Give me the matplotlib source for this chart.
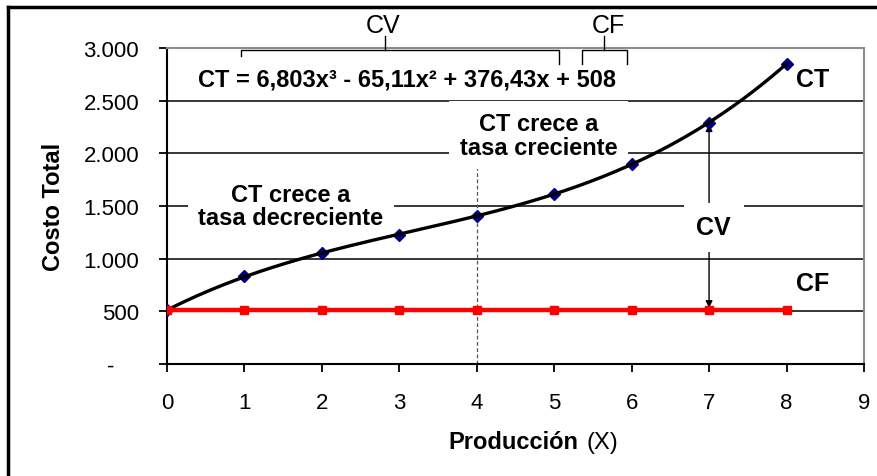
"""
Costo total = costo fijo + costo variable (función cúbica)
"""

import matplotlib
matplotlib.use("Agg")
import matplotlib.pyplot as plt
import numpy as np

plt.rcParams["font.family"] = ["Liberation Sans", "DejaVu Sans"]

# datos
produccion = [0, 1, 2, 3, 4, 5, 6, 7, 8]
costo_total = [508, 835, 1055, 1225, 1405, 1615, 1900, 2290, 2850]
costo_fijo = [508, 508, 508, 508, 508, 508, 508, 508, 508]
y_ticks = [0, 500, 1000, 1500, 2000, 2500, 3000]
y_labels = ["-    ", "500", "1.000", "1.500", "2.000", "2.500", "3.000"]
x_ticks = list(range(10))
ecuacion = "CT = 6,803x³ - 65,11x² + 376,43x + 508"
x_inflexion = 4
x_flecha = 7


def main():
    fig = plt.figure(figsize=(8.78, 4.77), dpi=100)
    ax = fig.add_axes([0.1902, 0.2348, 0.7938, 0.6625])

    # línea de tendencia polinómica (orden 3) ajustada a los puntos
    coef = np.polyfit(produccion, costo_total, 3)
    xs = np.linspace(0, 8, 200)
    ax.plot(xs, np.polyval(coef, xs), color="black", lw=2.4, zorder=5)
    ax.plot(produccion, costo_total, ls="none", marker="D", ms=6.5,
            color="#000080", zorder=4)
    ax.plot(produccion, costo_fijo, color="#ff0000", lw=3.2, marker="s",
            ms=5.5, zorder=5)

    ax.set_xlim(0, 9)
    ax.set_ylim(0, 3000)
    ax.set_xticks(x_ticks)
    ax.set_yticks(y_ticks)
    ax.set_yticklabels(y_labels)
    ax.tick_params(axis="both", labelsize=16, length=6, width=1.3,
                   direction="out", pad=14, color="black")

    for yv in y_ticks[1:-1]:
        ax.axhline(yv, color="black", lw=1.1, zorder=1)
    for side in ("left", "bottom"):
        ax.spines[side].set_color("black")
        ax.spines[side].set_linewidth(1.5)
    for side in ("top", "right"):
        ax.spines[side].set_color("#8c8c8c")
        ax.spines[side].set_linewidth(1.5)

    # línea punteada en el punto de inflexión
    ax.plot([x_inflexion, x_inflexion], [0, 1918], color="#555555", lw=0.9,
            ls=(0, (3, 2)), zorder=2)

    caja = dict(boxstyle="square,pad=0.45", fc="white", ec="none")
    ax.text(1.6, 1500, "CT crece a\ntasa decreciente", fontsize=17,
            fontweight="bold", ha="center", va="center", linespacing=1.05,
            bbox=caja, zorder=3)
    ax.text(4.8, 2170, "CT crece a\ntasa creciente", fontsize=17,
            fontweight="bold", ha="center", va="center", linespacing=1.05,
            bbox=dict(boxstyle="square,pad=0.45", fc="white", ec="none"),
            zorder=3)
    ax.text(3.1, 2706, ecuacion, fontsize=17, fontweight="bold",
            ha="center", va="center", zorder=3)

    # CV entre CF y CT
    ax.annotate("", xy=(x_flecha, costo_total[x_flecha] - 15),
                xytext=(x_flecha, costo_fijo[x_flecha] + 25),
                arrowprops=dict(arrowstyle="<|-|>", color="black", lw=1,
                                mutation_scale=10, shrinkA=0, shrinkB=0),
                zorder=2)
    ax.text(x_flecha + 0.06, 1300, "CV", fontsize=18, fontweight="bold",
            ha="center", va="center",
            bbox=dict(boxstyle="square,pad=0.5", fc="white", ec="none"),
            zorder=3)
    ax.text(8.34, 2706, "CT", fontsize=18, fontweight="bold",
            ha="center", va="center")
    ax.text(8.34, 770, "CF", fontsize=18, fontweight="bold",
            ha="center", va="center")

    # llaves de la ecuación (CV y CF)
    llave = dict(color="black", lw=1, clip_on=False, zorder=6)
    ax.plot([0.956, 0.956, 5.06, 5.06], [2924, 2981, 2981, 2848], **llave)
    ax.plot([2.815, 2.815], [2981, 3114], **llave)
    ax.plot([5.36, 5.36, 5.94, 5.94], [2848, 2981, 2981, 2848], **llave)
    ax.plot([5.64, 5.64], [2981, 3114], **llave)
    ax.text(2.79, 3215, "CV", fontsize=18, ha="center", va="center")
    ax.text(5.7, 3215, "CF", fontsize=18, ha="center", va="center")

    ax.set_ylabel("Costo Total", fontsize=17, fontweight="bold", labelpad=13)
    fig.text(0.6583, 0.0713, "Producción", fontsize=17, fontweight="bold",
             ha="right", va="center")
    fig.text(0.6680, 0.0713, "(X)", fontsize=17, ha="left", va="center")

    # marco exterior (solo arriba e izquierda visibles)
    fig.add_artist(plt.Line2D([0.0091, 1.0], [0.983, 0.983], color="black",
                              lw=2.5, transform=fig.transFigure))
    fig.add_artist(plt.Line2D([0.0091, 0.0091], [0.0, 0.983], color="black",
                              lw=2.5, transform=fig.transFigure))

    fig.savefig("out.png", dpi=100)
    plt.close(fig)


if __name__ == "__main__":
    main()
